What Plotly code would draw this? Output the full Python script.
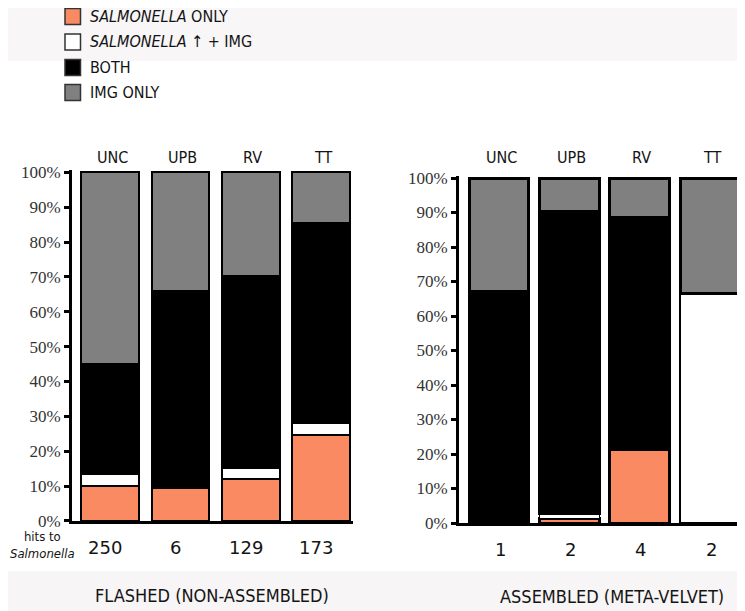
import plotly.graph_objects as go

# page offset (browser body margin) is compensated so pixels match the reference
OFF = 8
W, H = 745 - OFF, 611 - OFF

# ---------------- data ----------------
categories = ["UNC", "UPB", "RV", "TT"]
series_names = ["<i>SALMONELLA</i> ONLY", "<i>SALMONELLA</i> ↑ + IMG", "BOTH", "IMG ONLY"]
series_colors = ["#FA8A62", "#FFFFFF", "#000000", "#808080"]

flashed_salm_only = [10.0, 9.6, 12.0, 24.6]
flashed_salm_img = [3.4, 0, 3.3, 3.5]
flashed_both = [31.6, 56.5, 55.1, 57.3]
flashed_img_only = [55.0, 33.9, 29.6, 14.6]
flashed_hits = ["250", "6", "129", "173"]

assembled_salm_only = [0, 1.3, 21.4, 0]
assembled_salm_img = [0, 1.5, 0, 66.6]
assembled_both = [67.1, 87.4, 67.1, 0]
assembled_img_only = [32.9, 9.8, 11.5, 33.4]
assembled_hits = ["1", "2", "4", "2"]

y_ticks = [0, 10, 20, 30, 40, 50, 60, 70, 80, 90, 100]
y_tick_labels = ["0%", "10%", "20%", "30%", "40%", "50%", "60%", "70%", "80%", "90%", "100%"]
panel_titles = ["FLASHED (NON-ASSEMBLED)", "ASSEMBLED (META-VELVET)"]

SANS = "DejaVu Sans Condensed, sans-serif"
NUMS = "DejaVu Sans, sans-serif"
SERIF = "Liberation Serif, DejaVu Serif, serif"
TXT = "#141414"


def px_x(x):
    return (x - OFF) / W


def px_y(y):
    return 1 - (y - OFF) / H


def nz(vals):
    return [v if v else None for v in vals]


fig = go.Figure()

flashed = [flashed_salm_only, flashed_salm_img, flashed_both, flashed_img_only]
assembled = [assembled_salm_only, assembled_salm_img, assembled_both, assembled_img_only]

for i, vals in enumerate(flashed):
    fig.add_trace(go.Bar(
        x=categories, y=nz(vals), name=series_names[i], xaxis="x", yaxis="y",
        marker=dict(color=series_colors[i], line=dict(color="black", width=2)),
        width=0.82, showlegend=False, hoverinfo="skip"))

for i, vals in enumerate(assembled):
    fig.add_trace(go.Bar(
        x=categories, y=nz(vals), name=series_names[i], xaxis="x2", yaxis="y2",
        marker=dict(color=series_colors[i],
                    line=dict(color="black", width=1.5 if i == 1 else 3)),
        width=0.85, showlegend=False, hoverinfo="skip"))


def ydom(y0, y100, top):
    ppu = (y0 - y100) / 100.0
    ytop = y0 - top * ppu
    return [px_y(y0), px_y(ytop)]


ytop = 100.6
axis_common = dict(showline=True, linewidth=3, linecolor="black", showgrid=False,
                   zeroline=False, automargin=False)
yaxis_common = dict(axis_common, range=[0, ytop], tickmode="array", tickvals=y_ticks,
                    ticktext=y_tick_labels,
                    ticks="outside", ticklen=5, tickwidth=3, tickcolor="black",
                    tickfont=dict(family=SERIF, size=17, color="#333333"))
xaxis_common = dict(axis_common, showticklabels=False, ticks="", type="category")

fig.update_layout(
    template="none",
    width=W, height=H, margin=dict(l=0, r=0, t=0, b=0, pad=0), autosize=False,
    paper_bgcolor="white", plot_bgcolor="rgba(0,0,0,0)",
    barmode="stack", showlegend=False,
    xaxis=dict(xaxis_common, domain=[px_x(72), px_x(353)], range=[-0.54, 3.45], anchor="y"),
    yaxis=dict(yaxis_common, domain=ydom(521, 172.3, ytop), anchor="x"),
    xaxis2=dict(xaxis_common, domain=[px_x(459), px_x(741)], range=[-0.569, 3.44], anchor="y2"),
    yaxis2=dict(yaxis_common, domain=ydom(523, 178, ytop), anchor="x2"),
)

shapes = []
annotations = []

shapes.append(dict(type="rect", xref="paper", yref="paper", x0=px_x(3), x1=1,
                   y0=px_y(61), y1=px_y(4), fillcolor="#F8F6F7", line_width=0, layer="below"))
shapes.append(dict(type="rect", xref="paper", yref="paper", x0=px_x(0), x1=1,
                   y0=px_y(611), y1=px_y(571), fillcolor="#F7F5F5", line_width=0, layer="below"))

legend_rows = [16.5, 42, 67.5, 92.5]
for i, name in enumerate(series_names):
    yc = legend_rows[i]
    shapes.append(dict(type="rect", xref="paper", yref="paper",
                       x0=px_x(65), x1=px_x(80.5), y0=px_y(yc + 8), y1=px_y(yc - 8),
                       fillcolor=series_colors[i], line=dict(color="#333333", width=1.5)))
    annotations.append(dict(text=name, xref="paper", yref="paper", x=px_x(88), y=px_y(yc),
                            xanchor="left", yanchor="middle", showarrow=False,
                            font=dict(family=SANS, size=16, color=TXT)))

for ax, yl, yh, hits, shift in (("x", 157, 547, flashed_hits, -5), ("x2", 157, 549, assembled_hits, 1)):
    for c, h in zip(categories, hits):
        annotations.append(dict(text=c, xref=ax, yref="paper", x=c, y=px_y(yl),
                                xanchor="center", yanchor="middle", showarrow=False,
                                xshift=2, font=dict(family=SANS, size=16, color=TXT)))
        annotations.append(dict(text=h, xref=ax, yref="paper", x=c, y=px_y(yh),
                                xanchor="center", yanchor="middle", showarrow=False,
                                xshift=shift, font=dict(family=NUMS, size=18, color=TXT)))

annotations.append(dict(text="hits to<br><i>Salmonella</i>", xref="paper", yref="paper",
                        x=px_x(42), y=px_y(545), xanchor="center", yanchor="middle",
                        showarrow=False, font=dict(family=SANS, size=13, color=TXT)))

annotations.append(dict(text=panel_titles[0], xref="paper", yref="paper", x=px_x(212),
                        y=px_y(595), xanchor="center", yanchor="middle", showarrow=False,
                        font=dict(family=SANS, size=18, color=TXT)))
annotations.append(dict(text=panel_titles[1], xref="paper", yref="paper", x=px_x(612),
                        y=px_y(596), xanchor="center", yanchor="middle", showarrow=False,
                        font=dict(family=SANS, size=18, color=TXT)))

fig.update_layout(shapes=shapes, annotations=annotations)
fig.write_html("out.html")
